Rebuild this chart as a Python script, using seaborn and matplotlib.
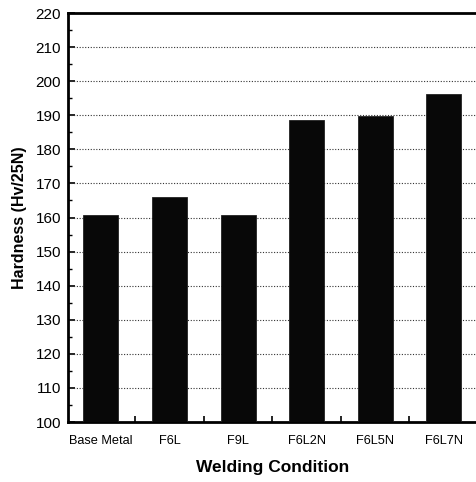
import matplotlib
matplotlib.use("Agg")
import matplotlib.pyplot as plt
import seaborn as sns
import numpy as np
from matplotlib.ticker import MultipleLocator, FixedLocator

conditions = ["Base Metal", "F6L", "F9L", "F6L2N", "F6L5N", "F6L7N"]
hardness = [160.6, 165.9, 160.8, 188.6, 189.7, 196.2]
y_ticks = list(range(100, 221, 10))

sns.set_theme(style="white")
plt.rcParams['font.family'] = ['Liberation Sans', 'DejaVu Sans']
plt.rcParams['text.color'] = 'black'
plt.rcParams['axes.labelcolor'] = 'black'
plt.rcParams['xtick.color'] = 'black'
plt.rcParams['ytick.color'] = 'black'

fig = plt.figure(figsize=(4.76, 4.82), dpi=100)
ax = fig.add_axes([68/476, 60/482, 410/476, 409/482])

sns.barplot(x=conditions, y=hardness, color="#080808", width=0.51,
            saturation=1, edgecolor="#222222", linewidth=0.6, ax=ax, zorder=3)

ax.set_ylim(100, 220)
ax.set_xlim(-0.48, 5.5)
ax.yaxis.set_major_locator(FixedLocator(y_ticks))
ax.yaxis.set_minor_locator(MultipleLocator(5))
ax.set_xticks(range(len(conditions)))
ax.set_xticklabels(conditions)
ax.xaxis.set_minor_locator(FixedLocator([0.5, 1.5, 2.5, 3.5, 4.5]))

for y in y_ticks[1:-1]:
    ax.axhline(y, color="#333333", linestyle=(0, (1, 1.5)), linewidth=0.8, zorder=1)

for side in ["left", "bottom", "top"]:
    ax.spines[side].set_visible(True)
    ax.spines[side].set_color("black")
    ax.spines[side].set_linewidth(2)
ax.spines["right"].set_visible(False)

ax.tick_params(axis='y', which='major', direction='in', length=5, width=1.2,
               left=True, labelsize=11, pad=5, colors='black')
ax.tick_params(axis='y', which='minor', direction='in', length=3, width=1, left=True)
ax.tick_params(axis='x', which='major', length=0, labelsize=9.2, pad=9, colors='black')
ax.tick_params(axis='x', which='minor', direction='in', length=4, width=1.2, bottom=True)

ax.set_xlabel("Welding Condition", fontsize=12.5, fontweight='bold', labelpad=10, color='black')
ax.set_ylabel("Hardness (Hv/25N)", fontsize=11.5, fontweight='bold', labelpad=6, color='black')

fig.savefig("out.png", dpi=100)
